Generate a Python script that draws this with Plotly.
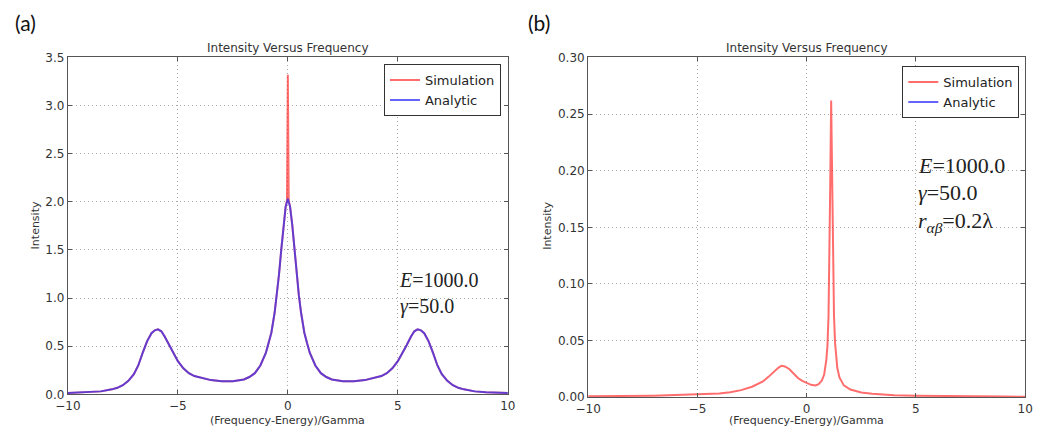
import plotly.graph_objects as go

# ---------------- data ----------------
a_x = [-10.0, -9.5, -9.0, -8.5, -8.0, -7.75, -7.5, -7.25, -7.0, -6.8, -6.6, -6.4, -6.2, -6.05,
       -5.9, -5.75, -5.6, -5.4, -5.2, -5.0, -4.75, -4.5, -4.25, -4.0, -3.5, -3.0, -2.5, -2.0,
       -1.75, -1.5, -1.25, -1.0, -0.875, -0.75, -0.6, -0.5, -0.4, -0.3, -0.2, -0.1, 0.0,
       0.1, 0.2, 0.3, 0.4, 0.5, 0.6, 0.75, 0.875, 1.0, 1.25, 1.5, 1.75, 2.0, 2.5, 3.0, 3.5,
       4.0, 4.25, 4.5, 4.75, 5.0, 5.2, 5.4, 5.6, 5.75, 5.9, 6.05, 6.2, 6.4, 6.6, 6.8, 7.0,
       7.25, 7.5, 7.75, 8.0, 8.5, 9.0, 9.5, 10.0]
a_analytic = [0.015, 0.018, 0.022, 0.031, 0.052, 0.068, 0.095, 0.14, 0.21, 0.30, 0.43, 0.55, 0.635, 0.665,
              0.675, 0.655, 0.60, 0.51, 0.42, 0.345, 0.27, 0.22, 0.19, 0.175, 0.148, 0.135, 0.137, 0.155,
              0.18, 0.22, 0.30, 0.43, 0.53, 0.64, 0.85, 1.03, 1.25, 1.50, 1.76, 1.95, 2.03,
              1.95, 1.76, 1.50, 1.25, 1.03, 0.85, 0.64, 0.53, 0.43, 0.30, 0.22, 0.18, 0.155, 0.137, 0.135, 0.148,
              0.175, 0.19, 0.22, 0.27, 0.345, 0.42, 0.51, 0.60, 0.655, 0.675, 0.665, 0.635, 0.55, 0.43, 0.30, 0.21,
              0.14, 0.095, 0.068, 0.052, 0.031, 0.022, 0.018, 0.015]

a_sim_x = [-10.0, -9.5, -9.0, -8.5, -8.0, -7.75, -7.5, -7.25, -7.0, -6.8, -6.6, -6.4, -6.2, -6.05,
           -5.9, -5.75, -5.6, -5.4, -5.2, -5.0, -4.75, -4.5, -4.25, -4.0, -3.5, -3.0, -2.5, -2.0,
           -1.75, -1.5, -1.25, -1.0, -0.875, -0.75, -0.6, -0.5, -0.4, -0.3, -0.2, -0.1, -0.04, 0.0,
           0.04, 0.1, 0.2, 0.3, 0.4, 0.5, 0.6, 0.75, 0.875, 1.0, 1.25, 1.5, 1.75, 2.0, 2.5, 3.0, 3.5,
           4.0, 4.25, 4.5, 4.75, 5.0, 5.2, 5.4, 5.6, 5.75, 5.9, 6.05, 6.2, 6.4, 6.6, 6.8, 7.0,
           7.25, 7.5, 7.75, 8.0, 8.5, 9.0, 9.5, 10.0]
a_sim = [0.015, 0.018, 0.022, 0.031, 0.052, 0.068, 0.095, 0.14, 0.21, 0.30, 0.43, 0.55, 0.635, 0.665,
         0.675, 0.655, 0.60, 0.51, 0.42, 0.345, 0.27, 0.22, 0.19, 0.175, 0.148, 0.135, 0.137, 0.155,
         0.18, 0.22, 0.30, 0.43, 0.53, 0.64, 0.85, 1.03, 1.25, 1.50, 1.76, 1.95, 2.01, 3.32,
         2.01, 1.95, 1.76, 1.50, 1.25, 1.03, 0.85, 0.64, 0.53, 0.43, 0.30, 0.22, 0.18, 0.155, 0.137, 0.135, 0.148,
         0.175, 0.19, 0.22, 0.27, 0.345, 0.42, 0.51, 0.60, 0.655, 0.675, 0.665, 0.635, 0.55, 0.43, 0.30, 0.21,
         0.14, 0.095, 0.068, 0.052, 0.031, 0.022, 0.018, 0.015]

b_x = [-10.0, -9.0, -8.0, -7.0, -6.0, -5.0, -4.5, -4.0, -3.5, -3.0, -2.5, -2.0, -1.75, -1.5, -1.3,
       -1.15, -1.0, -0.8, -0.6, -0.4, -0.2, 0.0, 0.2, 0.4, 0.55, 0.7, 0.8, 0.9, 0.95, 1.0, 1.05,
       1.08, 1.12, 1.16, 1.2, 1.25, 1.3, 1.4, 1.5, 1.7, 2.0, 2.5, 3.0, 4.0, 5.0, 6.0, 7.0, 8.0,
       9.0, 10.0]
b_sim = [0.0008, 0.0009, 0.0011, 0.0014, 0.0019, 0.0026, 0.0029, 0.0033, 0.0045, 0.0063, 0.0093, 0.0140, 0.018, 0.0225, 0.026,
         0.0278, 0.0272, 0.025, 0.021, 0.017, 0.0145, 0.0125, 0.011, 0.0105, 0.0115, 0.015, 0.020, 0.033, 0.045, 0.072, 0.13,
         0.19, 0.262, 0.19, 0.12, 0.072, 0.048, 0.026, 0.0175, 0.0105, 0.0068, 0.0042, 0.003, 0.0018, 0.0013, 0.001, 0.0008, 0.0007,
         0.0006, 0.0005]

x_ticks = [-10, -5, 0, 5, 10]
a_y_ticks = [0.0, 0.5, 1.0, 1.5, 2.0, 2.5, 3.0, 3.5]
b_y_ticks = [0.00, 0.05, 0.10, 0.15, 0.20, 0.25, 0.30]

# ---------------- styling ----------------
W, H = 1042, 443
RED = "rgba(255,20,20,0.62)"
BLUE = "rgba(40,40,245,0.72)"
FONT = "DejaVu Sans"


def px(x):
    return x / W


def py(y):
    return 1 - y / H


fig = go.Figure()
fig.add_trace(go.Scatter(x=a_sim_x, y=a_sim, mode="lines", name="Simulation",
                         line=dict(color=RED, width=2), xaxis="x", yaxis="y", legend="legend"))
fig.add_trace(go.Scatter(x=a_x, y=a_analytic, mode="lines", name="Analytic",
                         line=dict(color=BLUE, width=2), xaxis="x", yaxis="y", legend="legend"))
fig.add_trace(go.Scatter(x=b_x, y=b_sim, mode="lines", name="Simulation",
                         line=dict(color=RED, width=2), xaxis="x2", yaxis="y2", legend="legend2"))
fig.add_trace(go.Scatter(x=[None], y=[None], mode="lines", name="Analytic",
                         line=dict(color=BLUE, width=2), xaxis="x2", yaxis="y2", legend="legend2"))

axis_common = dict(showline=True, linecolor="#555", linewidth=1.2, mirror="ticks",
                   ticks="inside", ticklen=4, tickcolor="#555",
                   showgrid=True, gridcolor="#a8a8a8", griddash="1px,3px", gridwidth=1,
                   zeroline=False, tickfont=dict(family=FONT, size=12, color="#333"))

fig.update_layout(
    width=W, height=H,
    margin=dict(l=0, r=0, t=0, b=0),
    paper_bgcolor="white", plot_bgcolor="white",
    font=dict(family=FONT, color="#333"),
    xaxis=dict(domain=[px(56), px(505)], range=[-10, 10], tickvals=x_ticks, anchor="y", **axis_common),
    yaxis=dict(domain=[py(400), py(52)], range=[0, 3.5], tickvals=a_y_ticks, tickformat=".1f",
               anchor="x", **axis_common),
    xaxis2=dict(domain=[px(587), px(1033)], range=[-10, 10], tickvals=x_ticks, anchor="y2", **axis_common),
    yaxis2=dict(domain=[py(403), py(52)], range=[0, 0.30], tickvals=b_y_ticks, tickformat=".2f",
                anchor="x2", **axis_common),
    legend=dict(x=px(498), y=py(59), xanchor="right", yanchor="top", bgcolor="white",
                bordercolor="#333", borderwidth=1, font=dict(family=FONT, size=13, color="#222"),
                tracegroupgap=0, itemwidth=30),
    legend2=dict(x=px(1027), y=py(61), xanchor="right", yanchor="top", bgcolor="white",
                 bordercolor="#333", borderwidth=1, font=dict(family=FONT, size=13, color="#222"),
                 tracegroupgap=0, itemwidth=30),
    showlegend=True,
)

ann = []
# panel labels
ann.append(dict(text="(a)", x=px(0), y=py(16), xanchor="left", yanchor="middle",
                font=dict(family="Lato", size=21, color="#111")))
ann.append(dict(text="(b)", x=px(524), y=py(16), xanchor="left", yanchor="middle",
                font=dict(family="Lato", size=21, color="#111")))
# titles
for cx in (280.5, 810):
    ann.append(dict(text="Intensity Versus Frequency", x=px(cx), y=py(42), xanchor="center",
                    yanchor="middle", font=dict(family=FONT, size=12, color="#333")))
    ann.append(dict(text="(Frequency-Energy)/Gamma", x=px(cx), y=py(427), xanchor="center",
                    yanchor="middle", font=dict(family=FONT, size=11, color="#333")))
for cx in (23, 546):
    ann.append(dict(text="Intensity", x=px(cx), y=py(226), xanchor="center", yanchor="middle",
                    textangle=-90, font=dict(family=FONT, size=11, color="#333")))
# parameter text
SERIF = dict(family="Liberation Serif", size=22, color="#222")
ann.append(dict(text="<i>E</i>=1000.0<br><i>γ</i>=50.0", x=px(392), y=py(296), xanchor="left",
                yanchor="middle", align="left", font=dict(family="Liberation Serif", size=20, color="#222")))
ann.append(dict(text="<i>E</i>=1000.0", x=px(922), y=py(164), xanchor="left", yanchor="middle", font=SERIF))
ann.append(dict(text="<i>γ</i>=50.0", x=px(922), y=py(192), xanchor="left", yanchor="middle", font=SERIF))
ann.append(dict(text="<i>r</i><sub><i>αβ</i></sub>=0.2λ", x=px(922), y=py(222), xanchor="left",
                yanchor="middle", font=SERIF))
for a in ann:
    a.update(xref="paper", yref="paper", showarrow=False)
fig.update_layout(annotations=ann)

fig.write_html("out.html")
